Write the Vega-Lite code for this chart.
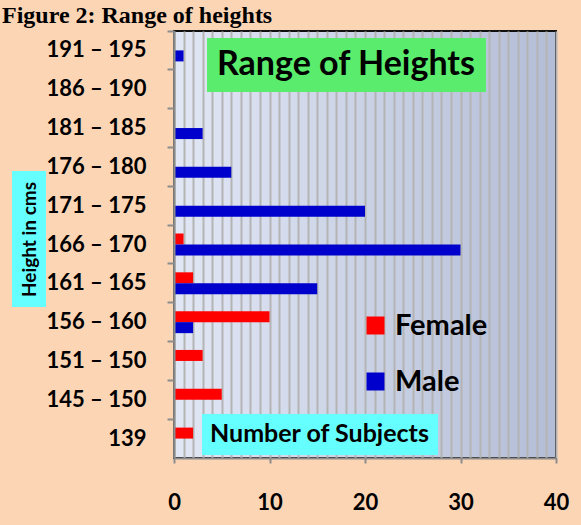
{
  "$schema": "https://vega.github.io/schema/vega-lite/v6.json",
  "width": 382,
  "height": 427,
  "autosize": {"type": "none"},
  "padding": {"left": 174, "top": 31, "right": 25, "bottom": 67},
  "background": "#FCD5B5",
  "title": {
    "text": "Figure  2: Range of heights",
    "anchor": "start",
    "frame": "group",
    "dx": -172,
    "offset": -17,
    "baseline": "alphabetic",
    "font": "Liberation Serif",
    "fontSize": 24,
    "fontWeight": "bold",
    "color": "#000000",
    "limit": 0
  },
  "config": {
    "view": {
      "fill": {
        "gradient": "linear",
        "x1": 0, "y1": 0, "x2": 1, "y2": 0,
        "stops": [
          {"offset": 0, "color": "#E2E7F5"},
          {"offset": 1, "color": "#B3BDD6"}
        ]
      },
      "stroke": "#111111",
      "strokeWidth": 2
    }
  },
  "data": {
    "values": [
      {"range": "191 – 195", "sex": "Female", "count": 0},
      {"range": "191 – 195", "sex": "Male", "count": 1},
      {"range": "186 – 190", "sex": "Female", "count": 0},
      {"range": "186 – 190", "sex": "Male", "count": 0},
      {"range": "181 – 185", "sex": "Female", "count": 0},
      {"range": "181 – 185", "sex": "Male", "count": 3},
      {"range": "176 – 180", "sex": "Female", "count": 0},
      {"range": "176 – 180", "sex": "Male", "count": 6},
      {"range": "171 – 175", "sex": "Female", "count": 0},
      {"range": "171 – 175", "sex": "Male", "count": 20},
      {"range": "166 – 170", "sex": "Female", "count": 1},
      {"range": "166 – 170", "sex": "Male", "count": 30},
      {"range": "161 – 165", "sex": "Female", "count": 2},
      {"range": "161 – 165", "sex": "Male", "count": 15},
      {"range": "156 – 160", "sex": "Female", "count": 10},
      {"range": "156 – 160", "sex": "Male", "count": 2},
      {"range": "151 – 150", "sex": "Female", "count": 3},
      {"range": "151 – 150", "sex": "Male", "count": 0},
      {"range": "145 – 150", "sex": "Female", "count": 5},
      {"range": "145 – 150", "sex": "Male", "count": 0},
      {"range": "139", "sex": "Female", "count": 2},
      {"range": "139", "sex": "Male", "count": 0}
    ]
  },
  "mark": {"type": "bar"},
  "encoding": {
    "y": {
      "field": "range",
      "type": "nominal",
      "sort": ["191 – 195", "186 – 190", "181 – 185", "176 – 180", "171 – 175", "166 – 170", "161 – 165", "156 – 160", "151 – 150", "145 – 150", "139"],
      "scale": {"paddingInner": 0, "paddingOuter": 0},
      "axis": {
        "title": "Height in cms",
        "titleAngle": 270,
        "titleX": -145,
        "titleY": 208,
        "titleAlign": "center",
        "titleBaseline": "middle",
        "titleFont": "Lato",
        "titleFontSize": 19,
        "titleFontWeight": "bold",
        "titleColor": "#000000",
        "bandPosition": 0,
        "grid": false,
        "domainColor": "#8C8C8C",
        "domainWidth": 2,
        "tickColor": "#8C8C8C",
        "tickWidth": 2,
        "tickSize": 7,
        "labelFont": "Lato",
        "labelFontSize": 22,
        "labelFontWeight": "bold",
        "labelColor": "#000000",
        "labelPadding": 21,
        "labelLimit": 0,
        "zindex": 2
      }
    },
    "yOffset": {
      "field": "sex",
      "type": "nominal",
      "sort": ["Female", "Male"],
      "scale": {"paddingInner": 0, "paddingOuter": 0.764}
    },
    "x": {
      "field": "count",
      "type": "quantitative",
      "scale": {"domain": [0, 40], "nice": false},
      "axis": {
        "title": null,
        "values": [0,1,2,3,4,5,6,7,8,9,10,11,12,13,14,15,16,17,18,19,20,21,22,23,24,25,26,27,28,29,30,31,32,33,34,35,36,37,38,39,40],
        "labelExpr": "datum.value % 10 === 0 ? datum.label : ''",
        "grid": true,
        "gridColor": "#B4B4B4",
        "gridWidth": 2,
        "domainColor": "#8C8C8C",
        "domainWidth": 2,
        "tickColor": {"condition": {"test": "datum.value % 10 === 0", "value": "#8C8C8C"}, "value": "transparent"},
        "tickWidth": 2,
        "tickSize": 5,
        "labelFont": "Lato",
        "labelFontSize": 22,
        "labelFontWeight": "bold",
        "labelColor": "#000000",
        "labelPadding": 29,
        "labelFlush": false,
        "labelOverlap": false
      }
    },
    "color": {
      "field": "sex",
      "type": "nominal",
      "scale": {"domain": ["Female", "Male"], "range": ["#FF0000", "#0000CC"]},
      "legend": {
        "title": null,
        "orient": "none",
        "legendX": 187,
        "legendY": 280,
        "symbolType": "square",
        "symbolSize": 324,
        "symbolStrokeWidth": 0,
        "labelFont": "Lato",
        "labelFontSize": 29,
        "labelFontWeight": "bold",
        "labelColor": "#000000",
        "labelOffset": 5,
        "labelLimit": 0,
        "rowPadding": 26,
        "padding": 0
      }
    },
    "opacity": {
      "field": "count",
      "type": "quantitative",
      "scale": {"domain": [0, 30], "range": [1, 1]},
      "legend": {
        "title": "Range of Heights",
        "values": [],
        "orient": "none",
        "legendX": 33,
        "legendY": 7,
        "fillColor": "#5AEC6C",
        "padding": 10,
        "titlePadding": 0,
        "titleLimit": 0,
        "titleFont": "Lato",
        "titleFontSize": 34,
        "titleFontWeight": "bold",
        "titleColor": "#000000"
      }
    },
    "strokeWidth": {
      "field": "count",
      "type": "quantitative",
      "scale": {"domain": [0, 31], "range": [0, 0]},
      "legend": {
        "title": "Number of Subjects",
        "values": [],
        "orient": "none",
        "legendX": 28,
        "legendY": 383,
        "fillColor": "#66FFFF",
        "padding": 8,
        "titlePadding": 0,
        "titleLimit": 0,
        "titleFont": "Lato",
        "titleFontSize": 25,
        "titleFontWeight": "bold",
        "titleColor": "#000000"
      }
    },
    "stroke": {
      "field": "count",
      "type": "quantitative",
      "scale": {"domain": [0, 33], "range": ["#66FFFF", "#66FFFF"]},
      "legend": {
        "title": null,
        "type": "gradient",
        "direction": "vertical",
        "orient": "none",
        "values": [],
        "legendX": -162,
        "legendY": 140,
        "gradientLength": 136,
        "gradientThickness": 34,
        "gradientStrokeWidth": 0,
        "labelOpacity": 0,
        "padding": 0,
        "zindex": 0
      }
    }
  }
}
